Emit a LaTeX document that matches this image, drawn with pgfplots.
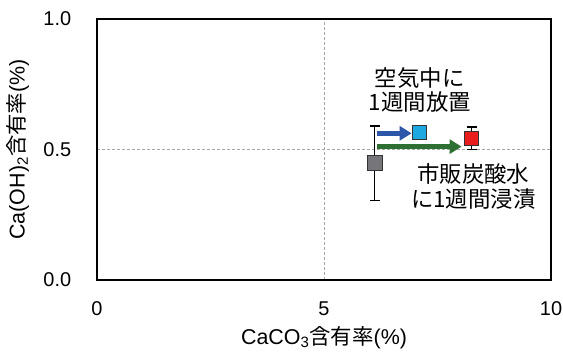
\documentclass[border=0pt]{standalone}
\usepackage{pgfplots}
\pgfplotsset{compat=1.18}
\usepackage{fontspec}
\setmainfont{Liberation Sans}
\newfontfamily\cjk{Noto Sans CJK JP}
\usetikzlibrary{arrows.meta}
\definecolor{mgray}{RGB}{118,118,122}
\definecolor{mblue}{RGB}{30,168,225}
\definecolor{mred}{RGB}{232,30,30}
\definecolor{ablue}{RGB}{44,86,168}
\definecolor{agreen}{RGB}{46,112,52}
\begin{document}
\fontsize{20}{24}\selectfont
\begin{tikzpicture}
\path[use as bounding box] (-97bp,-76bp) rectangle (466bp,280bp);
\begin{axis}[
  scale only axis,
  width=454bp, height=261bp,
  xmin=0, xmax=10, ymin=0, ymax=1,
  xtick={0,5,10}, ytick={0,0.5,1},
  yticklabel style={/pgf/number format/fixed, /pgf/number format/fixed zerofill, /pgf/number format/precision=1, xshift=-19bp},
  /pgf/number format/assume math mode=true,
  tick style={draw=none},
  axis line style={line width=2.5bp},
  grid=major,
  major grid style={gray!70, dash pattern=on 3bp off 2bp, line width=0.6bp},
  ticklabel style={font=\fontsize{20}{24}\selectfont},
  xticklabel style={yshift=-15bp},
  xlabel={CaCO\textsubscript{3}{\cjk 含有率}(\%)},
  ylabel={Ca(OH)\textsubscript{2}{\cjk 含有率}(\%)},
  label style={font=\fontsize{21.5}{25}\selectfont},
  xlabel style={yshift=3bp},
  ylabel style={yshift=1bp},
  clip=false,
]
% arrows
\addplot[ablue, line width=4.5bp, -{Triangle[length=12bp,width=14bp]}] coordinates {(6.16,0.562) (6.93,0.562)};
\addplot[agreen, line width=4.5bp, -{Triangle[length=12bp,width=14bp]}] coordinates {(6.16,0.511) (8.03,0.511)};
% points with error bars
\addplot[only marks, mark=square*, mark size=7.5bp, mark options={fill=mgray, draw=black!80, line width=1bp},
  error bars/.cd, y dir=both, y explicit, error bar style={black, line width=1.2bp}, error mark options={rotate=90, mark size=5bp, line width=1.2bp}]
  coordinates {(6.12,0.447) +- (0,0.143)};
\addplot[only marks, mark=square*, mark size=7bp, mark options={fill=mblue, draw=black!80, line width=1bp}]
  coordinates {(7.11,0.564)};
\addplot[only marks, mark=square*, mark size=7bp, mark options={fill=mred, draw=black!80, line width=1bp},
  error bars/.cd, y dir=both, y explicit, error bar style={black, line width=1.2bp}, error mark options={rotate=90, mark size=5bp, line width=1.2bp}]
  coordinates {(8.25,0.543) +- (0,0.043)};
\node[align=center, font=\cjk\fontsize{22.5}{25}\selectfont] at (axis cs:7.11,0.728) {空気中に\\1週間放置};
\node[align=center, font=\cjk\fontsize{22.5}{25}\selectfont] at (axis cs:8.29,0.36) {市販炭酸水\\に1週間浸漬};
\end{axis}
\end{tikzpicture}
\end{document}
